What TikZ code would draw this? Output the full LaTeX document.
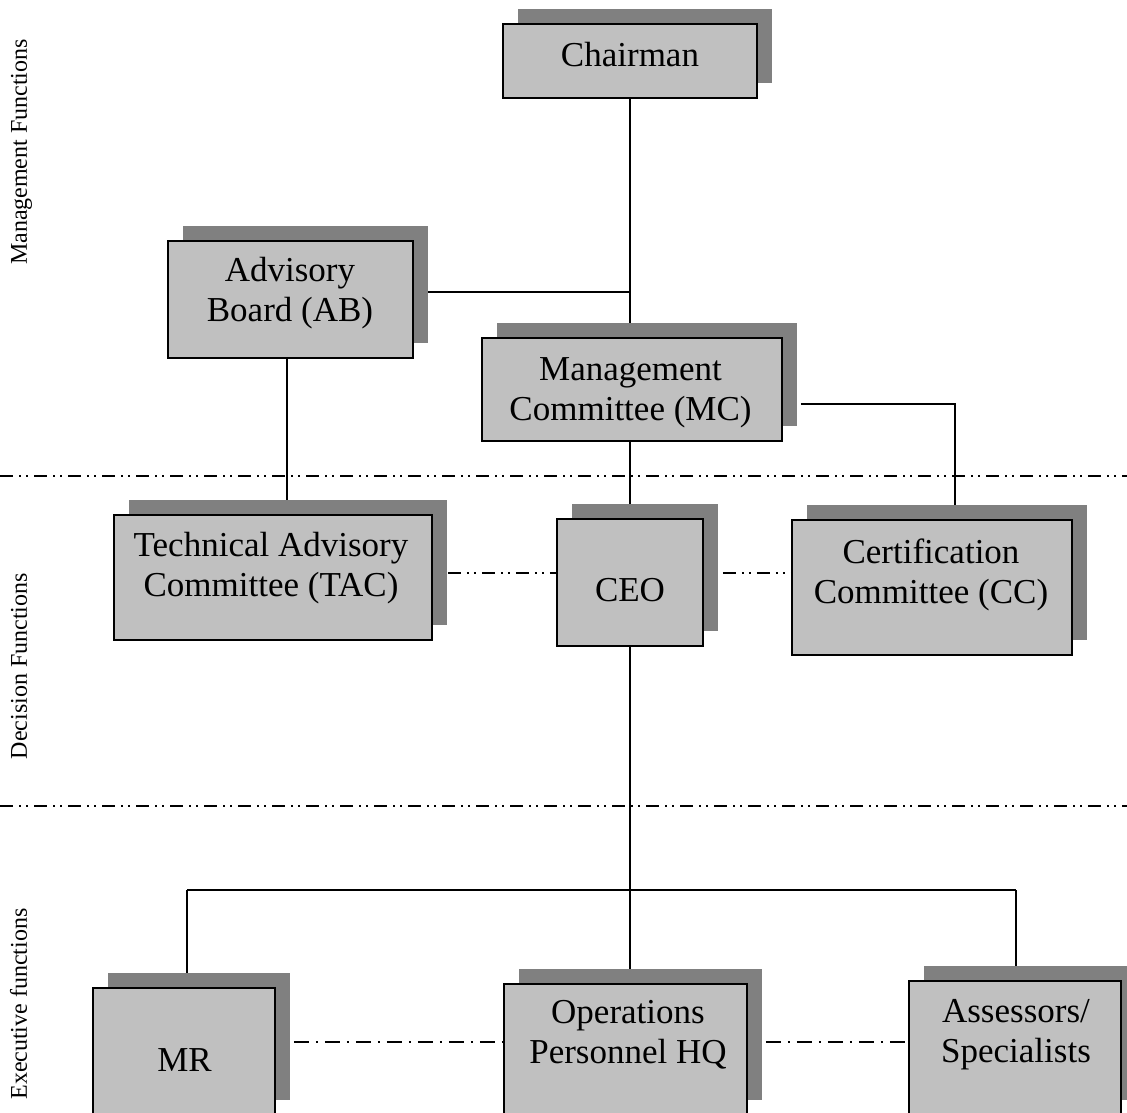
\documentclass[tikz,border=0pt]{standalone}
\usepackage{fontspec}
\setmainfont{Liberation Serif}
\usetikzlibrary{shadows,backgrounds,calc}
\definecolor{boxgray}{RGB}{192,192,192}
\definecolor{shadowgray}{RGB}{128,128,128}
\tikzset{
  orgbox/.style={draw=black, line width=1.8pt, fill=boxgray, rectangle, inner sep=0pt,
    general shadow={fill=shadowgray, shadow xshift=15pt, shadow yshift=15pt}},
  boxtext/.style={font=\fontsize{35}{40}\selectfont, align=center, inner sep=0pt, text=black},
  sidelabel/.style={font=\fontsize{24}{28}\selectfont, rotate=90, anchor=base, inner sep=0pt},
  conn/.style={line width=1.4pt},
  ddot/.style={line width=1.4pt, dash pattern=on 13pt off 6pt on 2pt off 5pt on 2pt off 6pt},
  dashdot/.style={line width=1.4pt, dash pattern=on 15pt off 7pt on 2pt off 7pt},
}
\begin{document}
\begin{tikzpicture}[x=1pt,y=-1pt]
\useasboundingbox (0,0) rectangle (1127,1112);
\clip (0,0) rectangle (1127,1112);

% side labels
\node[sidelabel] (lmgmt) at (27,152) {Management Functions};
\node[sidelabel] (ldec) at (27,666) {Decision Functions};
\node[sidelabel] (lexec) at (27,1004) {Executive functions};

% dividers
\draw[ddot] (0,476) -- (1127,476);
\draw[ddot] (0,806) -- (1127,806);

% boxes
\node[orgbox, minimum width=254pt, minimum height=74pt] (chair) at (630,61) {};
\node[orgbox, minimum width=245pt, minimum height=117pt] (ab) at (290.5,299.5) {};
\node[orgbox, minimum width=300pt, minimum height=103pt] (mc) at (632,389.5) {};
\node[orgbox, minimum width=318pt, minimum height=125pt] (tac) at (273,577.5) {};
\node[orgbox, minimum width=146pt, minimum height=127pt] (ceo) at (630,582.5) {};
\node[orgbox, minimum width=280pt, minimum height=135pt] (cc) at (932,587.5) {};
\node[orgbox, minimum width=182pt, minimum height=127pt] (mr) at (184,1051.5) {};
\node[orgbox, minimum width=243pt, minimum height=131pt] (ops) at (625.5,1049.5) {};
\node[orgbox, minimum width=212pt, minimum height=134pt] (ass) at (1015,1048) {};

% texts
\node[boxtext] (chairT) at (630,55) {Chairman};
\node[boxtext] (abT) at (290,293) {Advisory\\Board (AB)};
\node[boxtext] (mcT) at (630.5,393) {Management\\Committee (MC)};
\node[boxtext] (tacT) at (271,568) {Technical Advisory\\Committee (TAC)};
\node[boxtext] (ceoT) at (630,590) {CEO};
\node[boxtext] (ccT) at (931,575) {Certification\\Committee (CC)};
\node[boxtext] (mrT) at (184.5,1060.5) {MR};
\node[boxtext] (opsT) at (628,1035) {Operations\\Personnel HQ};
\node[boxtext] (assT) at (1016,1035) {Assessors/\\Specialists};

% helper coordinates
\coordinate (abx) at ($(ab.south)+(-3.5,0)$);
\coordinate (aby) at ($(ab.east)+(0,-7.5)$);
\coordinate (mcr) at ($(mc.east)+(18,14.5)$);
\coordinate (ccn) at ($(cc.north)+(23,0)$);
\coordinate (bus) at (0,890);
\coordinate (midrow) at (0,573);
\coordinate (botrow) at (0,1042);
\coordinate (mrtop) at ($(mr.north)+(3,0)$);
\coordinate (opstop) at ($(ops.north)+(4.5,0)$);
\coordinate (asstop) at ($(ass.north)+(1,0)$);

\begin{scope}[on background layer]
\draw[conn] (chair.south) -- (chair.south |- mc.north);
\draw[conn] (aby) -- (aby -| chair.south);
\draw[conn] (abx) -- (abx |- tac.north);
\draw[conn] (ceo.north |- mc.south) -- (ceo.north);
\draw[conn] (mcr) -| (ccn);
\draw[ddot] ($(tac.east |- midrow)+(15,0)$) -- (ceo.west |- midrow);
\draw[ddot] ($(ceo.east |- midrow)+(19,0)$) -- (cc.west |- midrow);
\draw[conn] (ceo.south) -- (ceo.south |- bus);
\draw[conn] (mrtop |- bus) -- (asstop |- bus);
\draw[conn] (mrtop |- bus) -- (mrtop);
\draw[conn] (opstop |- bus) -- (opstop);
\draw[conn] (asstop |- bus) -- (asstop);
\draw[dashdot] ($(mr.east |- botrow)+(18,0)$) -- (ops.west |- botrow);
\draw[dashdot] ($(ops.east |- botrow)+(18,0)$) -- (ass.west |- botrow);
\end{scope}
\end{tikzpicture}
\end{document}
